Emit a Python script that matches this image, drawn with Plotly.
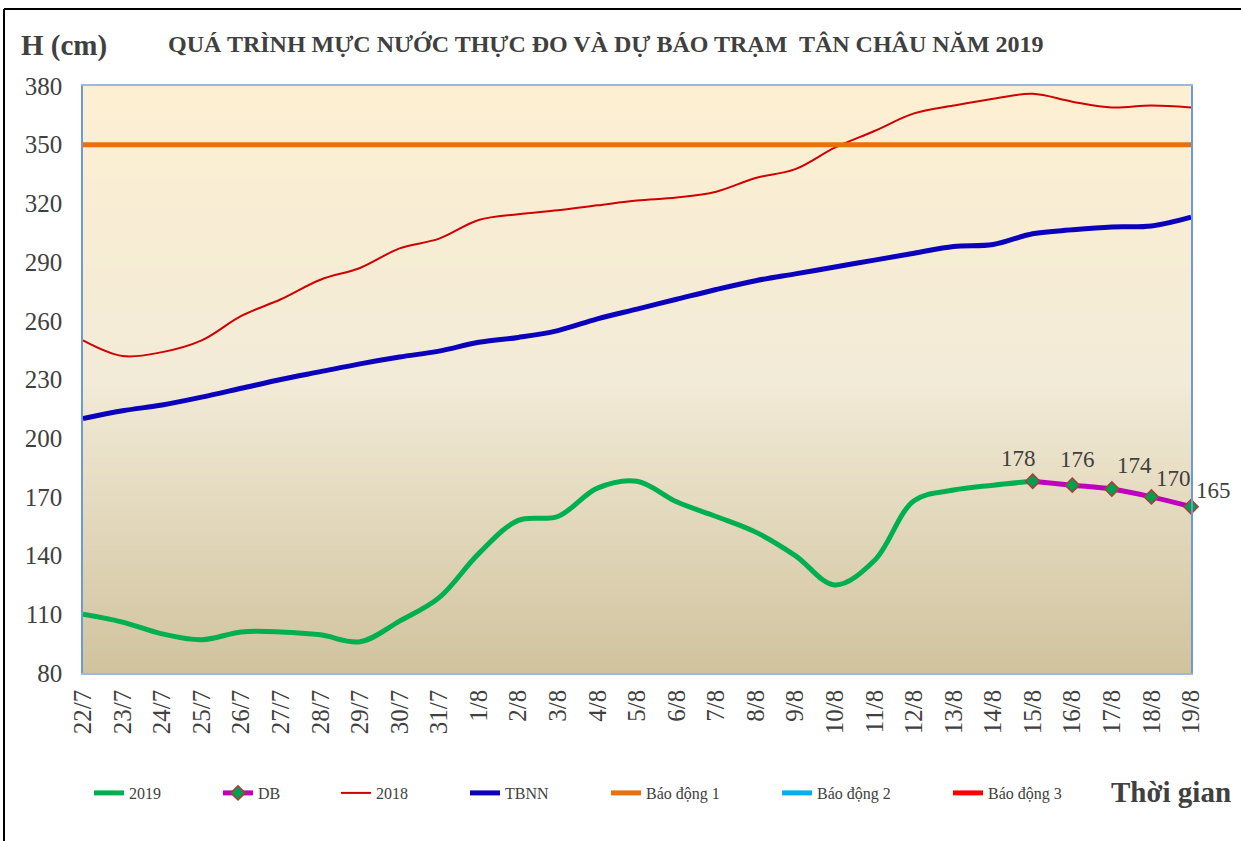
import plotly.graph_objects as go

# ---------------- data ----------------
dates = ["22/7", "23/7", "24/7", "25/7", "26/7", "27/7", "28/7", "29/7", "30/7", "31/7",
         "1/8", "2/8", "3/8", "4/8", "5/8", "6/8", "7/8", "8/8", "9/8", "10/8",
         "11/8", "12/8", "13/8", "14/8", "15/8", "16/8", "17/8", "18/8", "19/8"]

h2019 = [110, 106, 100, 97, 101, 101, 99.5, 96, 106.5, 118.5,
         141, 158, 160, 174.5, 178, 167.5, 160, 152, 140, 125,
         137.5, 168, 173.5, 176, 178]

db_dates = ["15/8", "16/8", "17/8", "18/8", "19/8"]
db_values = [178, 176, 174, 170, 165]

h2018 = [250, 242, 244, 250, 262.5, 271, 281, 287, 297, 302,
         311.5, 314.5, 316.5, 319, 321.5, 323, 326, 333, 337.5, 348.5,
         357, 366, 370, 373.5, 376, 372, 369, 370, 369]

tbnn = [210, 214, 217, 221, 225.5, 230, 234, 238, 241.5, 244.5,
        249, 251.5, 255, 261, 266, 271, 276, 280.5, 284, 287.5,
        291, 294.5, 298, 299, 304.5, 306.5, 308, 308.5, 313]

bao_dong_1 = 350
bao_dong_2 = 400
bao_dong_3 = 450

y_ticks = [80, 110, 140, 170, 200, 230, 260, 290, 320, 350, 380]

# ---------------- styling ----------------
SERIF = "Liberation Serif"
TXT = "#404040"
W, H = 1241, 841
L, R, T, B = 83, 50, 86, 168
PW, PH = W - L - R, H - T - B

fig = go.Figure()

legend_x = {"legend": 89, "legend2": 218, "legend3": 336, "legend4": 465,
            "legend5": 606, "legend6": 777, "legend7": 948}

def add_line(x, y, name, color, width, legend):
    fig.add_trace(go.Scatter(
        x=x, y=y, name=name, mode="lines",
        line=dict(color=color, width=width, shape="spline", smoothing=1.0),
        legend=legend, hoverinfo="x+y+name"))

add_line(dates, h2019, "2019", "#00B050", 5, "legend")

fig.add_trace(go.Scatter(
    x=db_dates, y=db_values, name="DB", mode="lines+markers",
    line=dict(color="#C000C0", width=5, shape="spline", smoothing=1.0),
    marker=dict(symbol="diamond", size=11, color="#00A050",
                line=dict(color="#B03A3A", width=1.5)),
    cliponaxis=False, legend="legend2"))

add_line(dates, h2018, "2018", "#D00000", 2, "legend3")
add_line(dates, tbnn, "TBNN", "#0B00BB", 5, "legend4")
add_line(dates, [bao_dong_1] * len(dates), "Báo động 1", "#E8710E", 5, "legend5")
add_line(dates, [bao_dong_2] * len(dates), "Báo động 2", "#00B0F0", 5, "legend6")
add_line(dates, [bao_dong_3] * len(dates), "Báo động 3", "#FF0000", 5, "legend7")

# gradient background for plot area (stripes)
def hex2rgb(h):
    h = h.lstrip("#")
    return [int(h[i:i + 2], 16) for i in (0, 2, 4)]

stops = [(0.0, hex2rgb("#FDEFD2")), (0.5, hex2rgb("#F2EBD7")), (1.0, hex2rgb("#D1C39E"))]

def color_at(t):
    for (t0, c0), (t1, c1) in zip(stops[:-1], stops[1:]):
        if t0 <= t <= t1:
            f = (t - t0) / (t1 - t0)
            return "rgb(%d,%d,%d)" % tuple(round(a + (b - a) * f) for a, b in zip(c0, c1))
    return "rgb(%d,%d,%d)" % tuple(stops[-1][1])

N = 120
shapes = []
for i in range(N):
    t = (i + 0.5) / N
    shapes.append(dict(type="rect", xref="paper", yref="paper",
                       x0=0, x1=1, y0=1 - (i + 1) / N - 0.001, y1=1 - i / N + 0.001,
                       fillcolor=color_at(t), line=dict(width=0), layer="below"))

def px_x(px):
    return (px - L) / PW

def px_y(py):
    return (H - B - py) / PH

# outer chart border (top and left edges visible in the picture)
shapes.append(dict(type="line", xref="paper", yref="paper",
                   x0=px_x(4), x1=px_x(W + 5), y0=px_y(9), y1=px_y(9),
                   line=dict(color="#000000", width=2)))
shapes.append(dict(type="line", xref="paper", yref="paper",
                   x0=px_x(4), x1=px_x(4), y0=px_y(9), y1=px_y(H + 5),
                   line=dict(color="#000000", width=2)))

layout_legends = {}
for key, px in legend_x.items():
    layout_legends[key] = dict(
        x=px / W, xref="container", y=1 - 793 / H, yref="container",
        xanchor="left", yanchor="middle", orientation="h",
        bgcolor="rgba(0,0,0,0)", borderwidth=0,
        font=dict(family=SERIF, size=16, color=TXT),
        itemwidth=30, tracegroupgap=0)

# data labels for the forecast (offsets in pixels, style only)
label_shift = [(-14, 23), (5, 26), (23, 24), (22, 18), (22, 16)]
data_labels = [
    dict(x=d, y=v, xref="x", yref="y", text=str(v), showarrow=False,
         xanchor="center", yanchor="middle", xshift=dx, yshift=dy,
         font=dict(family=SERIF, size=23, color=TXT))
    for d, v, (dx, dy) in zip(db_dates, db_values, label_shift)
]

fig.update_layout(
    width=W, height=H,
    margin=dict(l=L, r=R, t=T, b=B, autoexpand=False),
    paper_bgcolor="white", plot_bgcolor="rgba(0,0,0,0)",
    showlegend=True,
    shapes=shapes,
    annotations=[
        dict(text="<b>QUÁ TRÌNH MỰC NƯỚC THỰC ĐO VÀ DỰ BÁO TRẠM  TÂN CHÂU NĂM 2019</b>",
             xref="paper", yref="paper", x=px_x(606), y=px_y(44),
             xanchor="center", yanchor="middle", showarrow=False,
             font=dict(family=SERIF, size=24, color=TXT)),
        dict(text="<b>H (cm)</b>", xref="paper", yref="paper",
             x=px_x(19), y=px_y(46),
             xanchor="left", yanchor="middle", showarrow=False,
             font=dict(family=SERIF, size=29, color=TXT)),
        dict(text="<b>Thời gian</b>", xref="paper", yref="paper",
             x=px_x(1233), y=px_y(792),
             xanchor="right", yanchor="middle", showarrow=False,
             font=dict(family=SERIF, size=29, color=TXT)),
    ] + data_labels,
    **layout_legends,
)

fig.update_xaxes(type="category", categoryorder="array", categoryarray=dates,
                 range=[0, len(dates) - 1], tickangle=-90, showgrid=False, zeroline=False,
                 tickfont=dict(family=SERIF, size=25, color=TXT),
                 showline=True, linecolor="#9DB8DC", linewidth=1.5, mirror=True,
                 ticks="", ticklabelstandoff=5)
fig.update_yaxes(range=[80, 380], tickvals=y_ticks, showgrid=False, zeroline=False,
                 tickfont=dict(family=SERIF, size=25, color=TXT),
                 showline=True, linecolor="#6A9BD6", linewidth=1.5, mirror=True,
                 ticks="", ticklabelstandoff=14)

fig.write_html("out.html", config={"displayModeBar": False},
               post_script="document.body.style.margin='0px';")
